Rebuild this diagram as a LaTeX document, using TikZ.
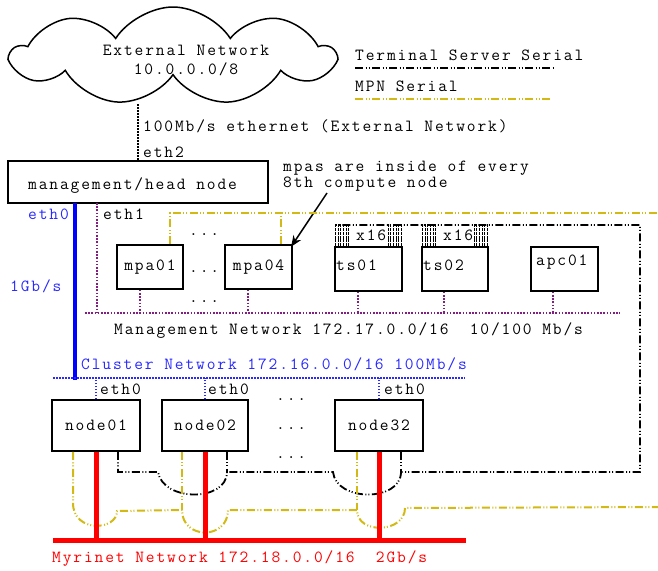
\documentclass[tikz,border=0pt]{standalone}
\usepackage{fontspec}
\setmainfont{Latin Modern Mono}[LetterSpace=11]
\usetikzlibrary{shapes.symbols,arrows.meta}
\definecolor{mpn}{RGB}{210,185,20}
\definecolor{mgmt}{RGB}{130,30,130}
\definecolor{clus}{RGB}{40,40,255}
\begin{document}
\begin{tikzpicture}[x=1pt,y=-1pt,font=\fontsize{17}{19}\selectfont,
  box/.style={draw,line width=1.6pt,fill=white,inner sep=0pt},
  txt/.style={inner sep=0pt,anchor=base west},
  tsline/.style={black,line width=1.8pt,dash pattern=on 8pt off 2.5pt on 1pt off 2pt on 1pt off 2.5pt},
  mpnline/.style={mpn,line width=2pt,dash pattern=on 8pt off 2.5pt on 1pt off 2pt on 1pt off 2.5pt},
  mgmtline/.style={mgmt,line width=1.8pt,dash pattern=on 1.6pt off 1.6pt},
  clusline/.style={clus,line width=2pt,dash pattern=on 1.6pt off 1.4pt},
  extdot/.style={black,line width=1.6pt,dash pattern=on 1.5pt off 1.5pt},
  myri/.style={red,line width=5pt},
  bundle/.style={black,line width=0.9pt,dash pattern=on 3pt off 0.8pt}]
\useasboundingbox (0,0) rectangle (658,570);

% cloud
\node[cloud,draw,line width=1.5pt,cloud puffs=9,cloud puff arc=115,aspect=3.4,
      minimum width=322,minimum height=98,inner sep=0pt] (ext) at (173,56) {};
\node[txt,anchor=base] (ext1) at (186,55) {External Network};
\node[txt,anchor=base] (ext2) at (186,74) {10.0.0.0/8};

% legend
\node[txt] (lgts) at (355,60) {Terminal Server Serial};
\node[txt] (lgmpn) at (355,91) {MPN Serial};
\coordinate (lg1a) at (355,68); \coordinate (lg1b) at (553,68);
\coordinate (lg2a) at (355,99); \coordinate (lg2b) at (550,99);
\draw[tsline] (lg1a) -- (lg1b);
\draw[mpnline,line width=2.5pt] (lg2a) -- (lg2b);

% head node
\node[box,minimum width=260,minimum height=42] (head) at (138,182) {};
\node[txt] (headtxt) at (28,189) {management/head node};
\coordinate (cloudfoot) at (138,104);
\draw[extdot] (cloudfoot) -- (head.north);
\node[txt] (extlbl) at (143,131) {100Mb/s ethernet (External Network)};
\node[txt] (eth2) at (143,157) {eth2};
\node[txt,align=left,font=\fontsize{17}{14}\selectfont] (mpas) at (283,187)
  {mpas are inside of every\\8th compute node};

% management network boxes
\node[box,minimum width=66,minimum height=44] (mpa01) at (150,267) {mpa01};
\node[box,minimum width=67,minimum height=44] (mpa04) at (258.5,267) {mpa04};
\node[box,minimum width=67,minimum height=44] (ts01) at (368.5,269) {};
\node[box,minimum width=66,minimum height=44] (ts02) at (455,269) {};
\node[box,minimum width=67,minimum height=44] (apc01) at (564.5,269) {};
\node[txt] (ts01t) at (336,270) {ts01};
\node[txt] (ts02t) at (423,270) {ts02};
\node[txt] (apc01t) at (536,265) {apc01};
\node[txt] (x16a) at (356,240) {x16};
\node[txt] (x16b) at (443,240) {x16};
\node[txt] (dotsA) at (189,235) {...};
\node[txt] (dotsB) at (189,272) {...};
\node[txt] (dotsC) at (189,302) {...};

% arrow
\coordinate (arrowstart) at (327,193);
\draw[-{Stealth[length=11pt,width=9pt]},line width=1.5pt,shorten >=-3pt] (arrowstart) -- (mpa04.north east);

% blue 1Gb/s
\coordinate (hb0) at (75,203); \coordinate (cl0) at (75,380);
\draw[blue,line width=4pt] (hb0) -- (cl0);
\node[txt,text=clus] (eth0h) at (28,219) {eth0};
\node[txt,text=clus] (gbs) at (10,291) {1Gb/s};
\node[txt] (eth1) at (103,219) {eth1};

% management bus
\coordinate (hb1) at (97,203);
\coordinate (mgL) at (85,313); \coordinate (mgR) at (620,313);
\draw[mgmtline] (hb1) -- (hb1 |- mgL);
\draw[mgmtline] (mgL) -- (mgR);
\foreach \n/\s in {mpa01/-10,mpa04/-10.5,ts01/-10.5,ts02/-11,apc01/-11.5}
  \draw[mgmtline] ([xshift=\s]\n.south) -- ++(0,22);
\node[txt] (mgtxt) at (114,334) {Management Network 172.17.0.0/16\ \ 10/100 Mb/s};

% MPN upper
\coordinate (mpnTR) at (658,213);
\draw[mpnline] ([xshift=20]mpa01.north) |- (mpnTR);
\draw[mpnline] ([xshift=22.5]mpa04.north) -- ++(0,-32);

% bundles
\foreach \b in {ts01,ts02}{
  \foreach \i in {0,...,5}{
    \draw[bundle] ([xshift=1.5+\i*2.6]\b.north west) -- ++(0,-22);
    \draw[bundle] ([xshift=-1.5-\i*2.6]\b.north east) -- ++(0,-22);
  }
}

% cluster network
\node[txt,text=clus] (cltxt) at (81,369) {Cluster Network 172.16.0.0/16 100Mb/s};
\coordinate (clL) at (53,378); \coordinate (clR) at (465,378);
\draw[clusline] (clL) -- (clR);

% compute nodes
\node[box,minimum width=88,minimum height=51] (node01) at (96,425.5) {node01};
\node[box,minimum width=86,minimum height=51] (node02) at (205,425.5) {node02};
\node[box,minimum width=88,minimum height=51] (node32) at (379,425.5) {node32};
\foreach \n in {node01,node02,node32}
  \draw[clusline] (\n.north) -- (\n.north |- clL);
\node[txt] (e01) at (100,394) {eth0};
\node[txt] (e02) at (208,394) {eth0};
\node[txt] (e32) at (384,394) {eth0};
\node[txt] (dd1) at (276,400) {...};
\node[txt] (dd2) at (276,429) {...};
\node[txt] (dd3) at (276,458) {...};

% terminal server serial
\coordinate (t1) at (118,472); \coordinate (t2) at (158,472);
\coordinate (t3) at (227,472); \coordinate (t4) at (333,472);
\coordinate (t5) at (401,472); \coordinate (tsBR) at (640,472);
\coordinate (tsTR) at (640,225); \coordinate (tsTL) at (335,225);
\draw[tsline] ([xshift=22]node01.south) -- (t1) -- (t2)
  .. controls (163,502) and (227,502) .. (t3) -- (t4)
  .. controls (336,502) and (401,502) .. (t5) -- (tsBR) -- (tsTR) -- (tsTL);
\draw[tsline] ([xshift=22]node02.south) -- (t3);
\draw[tsline] ([xshift=22]node32.south) -- (t5);

% MPN lower
\coordinate (m1) at (73,503); \coordinate (m2) at (117,511);
\coordinate (m3) at (182,510); \coordinate (m4) at (228,510);
\coordinate (m5) at (357,510); \coordinate (m6) at (405,508);
\coordinate (mpnBR) at (658,507);
\draw[mpnline] ([xshift=-23]node01.south) -- (m1)
  .. controls (73,533) and (117,531) .. (m2) -- (m3)
  .. controls (182,540) and (228,540) .. (m4) -- (m5)
  .. controls (357,535) and (405,533) .. (m6) -- (mpnBR);
\draw[mpnline] ([xshift=-23]node02.south) -- (m3);
\draw[mpnline] ([xshift=-22]node32.south) -- (m5);

% myrinet
\coordinate (myL) at (53,540); \coordinate (myR) at (466,540);
\draw[myri] (myL) -- (myR);
\foreach \n in {node01,node02,node32}
  \draw[myri] (\n.south) -- (\n.south |- myL);
\node[txt,text=red] (mytxt) at (52,562) {Myrinet Network 172.18.0.0/16\ \ 2Gb/s};
\end{tikzpicture}
\end{document}
